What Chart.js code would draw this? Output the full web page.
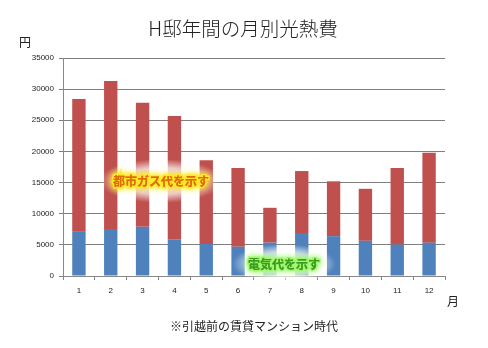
<!DOCTYPE html>
<html>
  <head>
    <meta charset="utf-8">
    <style>
      html, body { margin: 0; padding: 0; background: #fff; }
    </style>
  </head>
  <body>
    <canvas id="costChart" width="488" height="348"></canvas>

    <script src="https://cdn.jsdelivr.net/npm/chart.js@4"></script>
    <script>
      // values (yen)
      var months = ['1', '2', '3', '4', '5', '6', '7', '8', '9', '10', '11', '12'];
      var electric = [7200, 7550, 7900, 5800, 5150, 4700, 5350, 6750, 6400, 5650, 5050, 5350];
      var gas = [21200, 23750, 19900, 19900, 13450, 12650, 5600, 10100, 8800, 8350, 12300, 14450];
      var yTicks = [0, 5000, 10000, 15000, 20000, 25000, 30000, 35000];

      var jpFont = '"Noto Sans CJK JP", sans-serif';

      // title, unit labels, footnote and the two glowing notes
      var decor = {
        id: 'decor',
        afterDraw: function (chart) {
          var c = chart.ctx;
          c.save();
          c.fillStyle = '#222';
          c.textBaseline = 'middle';
          c.textAlign = 'center';
          c.font = '300 19.5px ' + jpFont;
          c.fillText('H邸年間の月別光熱費', 243, 29);
          c.font = '12px ' + jpFont;
          c.fillText('円', 25, 42);
          c.fillText('月', 453, 301);
          c.font = '12px ' + jpFont;
          c.fillText('※引越前の賃貸マンション時代', 254, 326);

          // white haze behind the notes
          function haze(x, y, rx, ry) {
            var g = c.createRadialGradient(x, y, 2, x, y, rx);
            g.addColorStop(0, 'rgba(255,255,255,0.95)');
            g.addColorStop(0.6, 'rgba(255,255,255,0.7)');
            g.addColorStop(1, 'rgba(255,255,255,0)');
            c.save();
            c.translate(x, y);
            c.scale(1, ry / rx);
            c.translate(-x, -y);
            c.fillStyle = g;
            c.beginPath();
            c.arc(x, y, rx, 0, Math.PI * 2);
            c.fill();
            c.restore();
          }
          haze(161, 181, 62, 22);
          haze(284, 264, 52, 20);

          c.font = 'bold 12px ' + jpFont;
          c.textAlign = 'center';
          // gas note
          c.shadowColor = '#ffe600';
          c.shadowBlur = 6;
          c.lineWidth = 3;
          c.strokeStyle = '#ffe94a';
          c.strokeText('都市ガス代を示す', 161, 181);
          c.fillStyle = '#e06a10';
          c.fillText('都市ガス代を示す', 161, 181);
          c.fillText('都市ガス代を示す', 161, 181);
          // electric note
          c.shadowColor = '#9cff6a';
          c.strokeStyle = '#a6f27a';
          c.strokeText('電気代を示す', 284, 264);
          c.fillStyle = '#3c9a1c';
          c.fillText('電気代を示す', 284, 264);
          c.fillText('電気代を示す', 284, 264);
          c.restore();
        }
      };

      var ctx = document.getElementById('costChart').getContext('2d');
      var costChart = new Chart(ctx, {
        type: 'bar',
        data: {
          labels: months,
          datasets: [{
            label: '電気代',
            data: electric,
            backgroundColor: '#4f81bd',
            barPercentage: 0.42,
            categoryPercentage: 1
          }, {
            label: '都市ガス代',
            data: gas,
            backgroundColor: '#c0504d',
            barPercentage: 0.42,
            categoryPercentage: 1
          }]
        },
        options: {
          responsive: false,
          animation: false,
          devicePixelRatio: 1,
          layout: { padding: { left: 0, right: 43, top: 58, bottom: 52 } },
          plugins: {
            legend: { display: false },
            tooltip: { enabled: false },
            title: { display: false }
          },
          scales: {
            x: {
              stacked: true,
              grid: { display: true, drawOnChartArea: false, offset: true, color: '#888', tickLength: 4 },
              border: { color: '#888' },
              ticks: { color: '#222', font: { size: 8, family: 'Arial, sans-serif' }, padding: 6 },
              afterFit: function (axis) { axis.height = 20; }
            },
            y: {
              stacked: true,
              min: 0,
              max: 35000,
              afterBuildTicks: function (axis) {
                axis.ticks = yTicks.map(function (v) { return { value: v }; });
              },
              grid: { color: '#7f7f7f', tickLength: 4 },
              border: { color: '#888' },
              ticks: {
                color: '#222',
                font: { size: 8, family: 'Arial, sans-serif' },
                padding: 5,
                callback: function (v) { return String(v); }
              },
              afterFit: function (axis) { axis.width = 63; }
            }
          }
        },
        plugins: [decor]
      });
    </script>
  </body>
</html>
